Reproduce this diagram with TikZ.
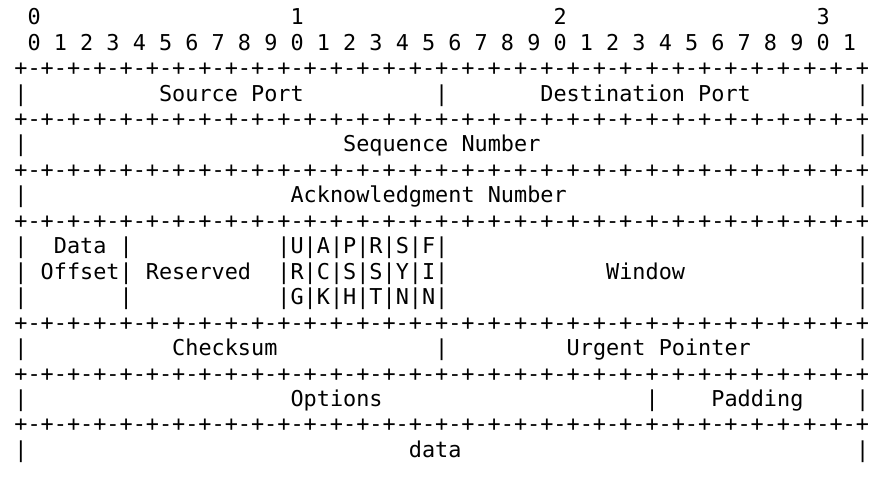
\documentclass[tikz,border=0pt]{standalone}
\usepackage{fontspec}
\setmonofont{DejaVu Sans Mono}
\usepackage{tikz}
\usetikzlibrary{positioning}

\newcommand\eightpm{+-+-+-+-+-+-+-+-}
\newcommand\sepline{\eightpm\eightpm\eightpm\eightpm+}
\tikzset{
  txt/.style={inner sep=0pt, outer sep=0pt, anchor=base,
    font=\ttfamily\fontsize{21.84pt}{25.45pt}\selectfont},
}

\begin{document}
\begin{tikzpicture}
  \useasboundingbox (0,0) rectangle (882pt,-482pt);
  \begin{scope}[shift={(21pt,-24.7pt)}, x=13.15pt, y=-25.45pt]
    % bit numbers
    \foreach \c/\d in {1/0,21/1,41/2,61/3}
      \node[txt] (ten\d) at (\c,0) {\d};
    \foreach \i in {0,...,31} {
      \pgfmathtruncatemacro\d{mod(\i,10)}
      \node[txt] (bit\i) at (2*\i+1,1) {\d};
    }
    % separator lines
    \foreach \r in {2,4,6,8,12,14,16}
      \node[txt, anchor=base west] (sep\r) at (-0.5,\r) {\sepline};
    % field borders
    \foreach \r/\cols in {3/{0,32,64}, 5/{0,64}, 7/{0,64}, 9/{0,8,20,22,24,26,28,30,32,64},
        10/{0,8,20,22,24,26,28,30,32,64}, 11/{0,8,20,22,24,26,28,30,32,64},
        13/{0,32,64}, 15/{0,48,64}, 17/{0,64}}
      \foreach \c in \cols
        \node[txt] (bar\r-\c) at (\c,\r) {|};
    % field names
    \node[txt] (srcport) at (16,3) {Source Port};
    \node[txt] (dstport) at (47.5,3) {Destination Port};
    \node[txt] (seqnum) at (32,5) {Sequence Number};
    \node[txt] (acknum) at (31,7) {Acknowledgment Number};
    \node[txt] (data1) at (4.5,9) {Data};
    \node[txt] (offset) at (4.5,10) {Offset};
    \node[txt] (reserved) at (13.5,10) {Reserved};
    \node[txt] (window) at (47.5,10) {Window};
    \node[txt] (checksum) at (15.5,13) {Checksum};
    \node[txt] (urgent) at (48.5,13) {Urgent Pointer};
    \node[txt] (options) at (24,15) {Options};
    \node[txt] (padding) at (56,15) {Padding};
    \node[txt] (payload) at (31.5,17) {data};
    % control flags, written top to bottom
    \foreach \f/\a/\b/\e [count=\k from 0] in {urg/U/R/G, ack/A/C/K, psh/P/S/H, rst/R/S/T, syn/S/Y/N, fin/F/I/N} {
      \node[txt] (\f1) at (21+2*\k,9) {\a};
      \node[txt] (\f2) at (21+2*\k,10) {\b};
      \node[txt] (\f3) at (21+2*\k,11) {\e};
    }
  \end{scope}
\end{tikzpicture}
\end{document}
